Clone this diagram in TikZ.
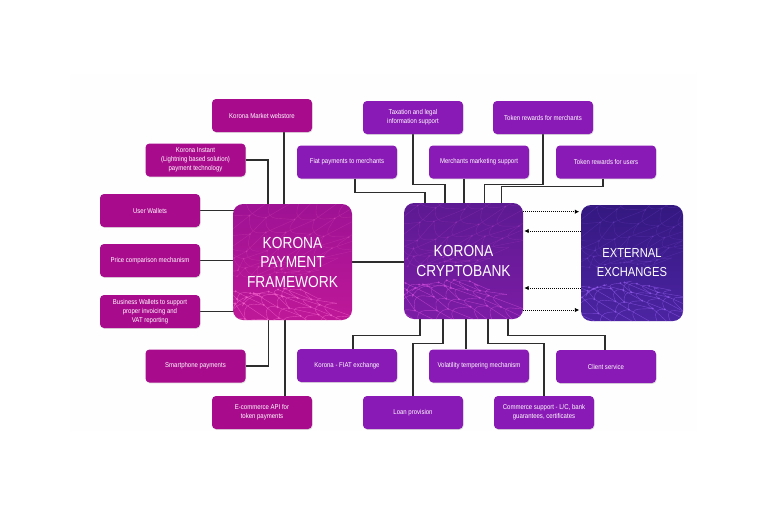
\documentclass[tikz,border=0pt]{standalone}
\usepackage{fontspec}
\setmainfont{Liberation Sans}[FakeStretch=0.86]
\usetikzlibrary{arrows.meta,shadows,calc}
\pgfdeclarelayer{background}
\pgfsetlayers{background,main}

\definecolor{mag}{RGB}{169,11,141}
\definecolor{pur}{RGB}{138,26,181}
\definecolor{lnk}{RGB}{45,45,45}
\definecolor{bgfaint}{RGB}{254,254,254}
\definecolor{pfTop}{RGB}{158,18,148}
\definecolor{pfBot}{RGB}{190,24,152}
\definecolor{pfNet}{RGB}{250,105,210}
\definecolor{cbTop}{RGB}{92,26,146}
\definecolor{cbBot}{RGB}{124,28,165}
\definecolor{cbNet}{RGB}{215,80,225}
\definecolor{eeTop}{RGB}{52,24,128}
\definecolor{eeBot}{RGB}{76,36,162}
\definecolor{eeNet}{RGB}{150,95,240}

\newcommand{\meshxy}[5]{%
  \pgfmathsetmacro{\meshX}{(#1-6)*(10+2.5*#2)+3.5*sin(#1*137+#2*71+#3)}%
  \pgfmathsetmacro{\meshY}{#5+#4*(1.4*#2*#2+4.5*#2)+2.5*cos(#1*53+#2*117+#3)}%
}
\newcommand{\netmesh}[5]{% colour, seed, opacity, direction, offset
  \begin{scope}[shift={(path picture bounding box.center)}]
  \foreach \i in {0,...,11}{
    \foreach \j in {0,...,5}{
      \pgfmathtruncatemacro{\ni}{\i+1}
      \pgfmathtruncatemacro{\nj}{\j+1}
      \meshxy{\i}{\j}{#2}{#4}{#5}\let\mAx\meshX\let\mAy\meshY
      \meshxy{\ni}{\j}{#2}{#4}{#5}\let\mBx\meshX\let\mBy\meshY
      \meshxy{\i}{\nj}{#2}{#4}{#5}\let\mCx\meshX\let\mCy\meshY
      \meshxy{\ni}{\nj}{#2}{#4}{#5}\let\mDx\meshX\let\mDy\meshY
      \draw[#1, opacity=#3, line width=0.4pt] (\mBx,\mBy) -- (\mAx,\mAy) -- (\mCx,\mCy) (\mAx,\mAy) -- (\mDx,\mDy);
      \fill[#1, opacity=#3] (\mAx,\mAy) circle (1.1pt);
    }
  }
  \end{scope}
}

\tikzset{
  smallbox/.style={rounded corners=4pt, minimum width=100pt, minimum height=33pt,
    inner sep=1pt, align=center, text=white, font=\fontsize{7}{9}\selectfont,
    drop shadow={shadow xshift=0.6pt, shadow yshift=-0.9pt, opacity=0.25}},
  magbox/.style={smallbox, fill=mag},
  purbox/.style={smallbox, fill=pur},
  bigbox/.style={rounded corners=10pt, minimum width=119pt, minimum height=116pt,
    inner sep=0pt, align=center, text=white, font=\fontsize{16}{19.5}\selectfont},
  conn/.style={draw=lnk, line width=1.1pt},
  darr/.style={draw=black, line width=1pt, dash pattern=on 1pt off 1pt,
    -{Latex[length=4.5pt,width=4.5pt]}},
}

\begin{document}
\begin{tikzpicture}[x=1pt,y=-1pt]
\path[use as bounding box] (0,0) rectangle (768,525);

% big boxes
\node[bigbox, top color=pfTop, bottom color=pfBot,
  path picture={\netmesh{pfNet}{11}{0.6}{1}{4}\netmesh{pfNet}{37}{0.2}{-1}{-12}}]
  (pf) at (292.5,262) {KORONA\\PAYMENT\\FRAMEWORK};
\node[bigbox, top color=cbTop, bottom color=cbBot,
  path picture={\netmesh{cbNet}{23}{0.6}{1}{6}\netmesh{cbNet}{59}{0.2}{-1}{-12}}]
  (cb) at (463.5,261) {KORONA\\CRYPTOBANK};
\node[bigbox, minimum width=102pt, font=\fontsize{13}{19}\selectfont,
  top color=eeTop, bottom color=eeBot,
  path picture={\netmesh{eeNet}{71}{0.6}{1}{8}\netmesh{eeNet}{83}{0.2}{-1}{-12}}]
  (ee) at (632,263) {EXTERNAL\\EXCHANGES};

% left (payment framework) boxes
\node[magbox] (kmw) at (262,115.5) {Korona Market webstore};
\node[magbox] (ki)  at (195.5,160) {Korona Instant\\(Lightning based solution)\\payment technology};
\node[magbox] (uw)  at (150,210.5) {User Wallets};
\node[magbox] (pcm) at (150,260.5) {Price comparison mechanism};
\node[magbox] (bw)  at (150,311.5) {Business Wallets to support\\proper invoicing and\\VAT reporting};
\node[magbox] (sp)  at (195.5,366) {Smartphone payments};
\node[magbox] (eca) at (262,412.5) {E-commerce API for\\token payments};

% top (cryptobank) boxes
\node[purbox] (tax) at (413,117.5) {Taxation and legal\\information support};
\node[purbox] (trm) at (543,117.5) {Token rewards for merchants};
\node[purbox] (fpm) at (347,162) {Fiat payments to merchants};
\node[purbox] (mms) at (479,162) {Merchants marketing support};
\node[purbox] (tru) at (606,162) {Token rewards for users};

% bottom (cryptobank) boxes
\node[purbox] (kfe) at (347,365.5) {Korona - FIAT exchange};
\node[purbox] (vtm) at (479,366) {Volatility tempering mechanism};
\node[purbox] (cs)  at (606,366.5) {Client service};
\node[purbox] (lp)  at (413,412.5) {Loan provision};
\node[purbox] (com) at (544,412.5) {Commerce support - L/C, bank\\guarantees, certificates};

\begin{pgfonlayer}{background}
\fill[white] (0,0) rectangle (768,525);
\fill[bgfaint] (70,74) rectangle (697,431);
% payment framework connectors
\draw[conn] ([xshift=22pt]kmw.south) -- ([xshift=22pt,yshift=-3pt]kmw.south |- pf.north);
\draw[conn] (ki.east) -| ([xshift=-24.5pt,yshift=-3pt]pf.north);
\draw[conn] (uw.east) -- ([xshift=6pt]uw.east -| pf.west);
\draw[conn] (pcm.east) -- ([xshift=4pt]pcm.east -| pf.west);
\draw[conn] (bw.east) -- ([xshift=6pt]bw.east -| pf.west);
\draw[conn] (sp.east) -| ([xshift=-24pt,yshift=3pt]pf.south);
\draw[conn] ([xshift=23pt]eca.north) -- ([xshift=23pt,yshift=3pt]eca.north |- pf.south);
\draw[conn] (pf.east) -- ([xshift=4pt]pf.east -| cb.west);

% cryptobank top connectors
\draw[conn] ([xshift=8pt]fpm.south) -- ++(0,13.7) -| ([xshift=-38.5pt,yshift=-3pt]cb.north);
\draw[conn] (tax.south) -- ++(0,50) -| ([xshift=-18.5pt,yshift=-3pt]cb.north);
\draw[conn] ([xshift=-15pt]mms.south) -- ([xshift=-15pt,yshift=-3pt]mms.south |- cb.north);
\draw[conn] (trm.south) -- ++(0,50) -| ([xshift=21pt,yshift=-3pt]cb.north);
\draw[conn] ([xshift=-3pt]tru.south) -- ++(0,7.7) -| ([xshift=38pt,yshift=-3pt]cb.north);

% cryptobank bottom connectors
\draw[conn] ([xshift=6pt]kfe.north) -- ++(0,-13.3) -| ([xshift=-43.5pt,yshift=3pt]cb.south);
\draw[conn] (lp.north) -- ++(0,-52.7) -| ([xshift=-20.5pt,yshift=3pt]cb.south);
\draw[conn] ([xshift=-13pt]vtm.north) -- ([xshift=-13pt,yshift=3pt]vtm.north |- cb.south);
\draw[conn] (com.north) -- ++(0,-52.7) -| ([xshift=24.5pt,yshift=3pt]cb.south);
\draw[conn] ([xshift=-1pt]cs.north) -- ++(0,-14.3) -| ([xshift=44.5pt,yshift=3pt]cb.south);

% exchange arrows
\draw[darr] ([yshift=49.3pt]cb.east) -- ([yshift=49.3pt,xshift=-1.5pt]cb.east -| ee.west);
\draw[darr] ([yshift=30pt]cb.east -| ee.west) -- ([yshift=30pt,xshift=1pt]cb.east);
\draw[darr] ([yshift=-27pt]cb.east -| ee.west) -- ([yshift=-27pt,xshift=1pt]cb.east);
\draw[darr] ([yshift=-49pt]cb.east) -- ([yshift=-49pt,xshift=-1.5pt]cb.east -| ee.west);
\end{pgfonlayer}
\end{tikzpicture}
\end{document}
